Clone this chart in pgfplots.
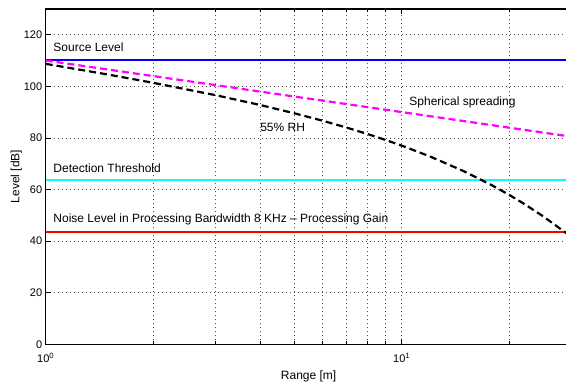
\documentclass[border=0pt]{standalone}
\usepackage{fontspec}
\setmainfont{Liberation Sans}
\usepackage{pgfplots}
\pgfplotsset{compat=1.18}
\usetikzlibrary{calc}
\definecolor{mblue}{RGB}{0,0,255}
\definecolor{mcyan}{RGB}{0,255,255}
\definecolor{mred}{RGB}{255,0,0}
\definecolor{mmag}{RGB}{255,0,255}
\begin{document}
\begin{tikzpicture}
\begin{axis}[
  scale only axis,
  width=525.9pt, height=335.4pt,
  xmode=log, xmin=1, xmax=30, ymin=0, ymax=130,
  xtick={1,10}, xticklabels={10\textsuperscript{0},10\textsuperscript{1}},
  minor xtick={2,3,4,5,6,7,8,9,20,30},
  ytick={0,20,40,60,80,100,120},
  grid=both,
  major grid style={black!70, line width=0.5pt, dash pattern=on 0.8pt off 3.2pt},
  minor grid style={black!70, line width=0.5pt, dash pattern=on 0.8pt off 3.2pt},
  tick align=inside,
  major tick length=5pt, minor tick length=3pt,
  tick style={black, line width=0.6pt},
  axis line style={line width=1.4pt},
  tick label style={font=\fontsize{11}{13}\selectfont},
  xticklabel style={yshift=-5pt},
  label style={font=\fontsize{12}{14}\selectfont},
  xlabel={Range [m]},
  ylabel={Level [dB]},
  xlabel style={yshift=-2pt},
  ylabel style={yshift=-5pt},
  /pgf/number format/assume math mode=true,
  clip=true,
]
\addplot[mblue, line width=2pt] coordinates {(1,110) (30,110)};
\addplot[mcyan, line width=2pt] coordinates {(1,63.6) (30,63.6)};
\addplot[mred, line width=2pt] coordinates {(1,43.6) (30,43.6)};
\addplot[mmag, line width=2.2pt, dash pattern=on 7pt off 4pt] coordinates {
(1,110) (1.5,106.48) (2,103.98) (3,100.46) (4,97.96) (5,96.02) (6,94.44) (7,93.10)
(8,91.94) (9,90.92) (10,90.0) (12,88.42) (15,86.48) (18,84.89) (20,83.98) (22,83.15)
(25,82.04) (28.9,80.78) (30,80.46)};
\addplot[black, line width=2.2pt, dash pattern=on 7pt off 4pt] coordinates {
(1,108.7) (1.5,104.53) (2,101.38) (3,96.56) (4,92.76) (5,89.52) (6,86.64) (7,84.0)
(8,81.54) (9,79.22) (10,77.0) (12,72.82) (15,66.98) (18,61.49) (20,57.98) (22,54.55)
(25,49.54) (28.9,43.21) (30,41.46)};
\node[anchor=west, font=\fontsize{12}{14}\selectfont, inner sep=0pt] at (axis cs:1.05,115) {Source Level};
\node[anchor=west, font=\fontsize{12}{14}\selectfont, inner sep=0pt] at (axis cs:10.5,93.8) {Spherical spreading};
\node[anchor=west, font=\fontsize{12}{14}\selectfont, inner sep=0pt] at (axis cs:4.0,84) {55\% RH};
\node[anchor=west, font=\fontsize{12}{14}\selectfont, inner sep=0pt] at (axis cs:1.05,68.3) {Detection Threshold};
\node[anchor=west, font=\fontsize{12}{14}\selectfont, inner sep=0pt] at (axis cs:1.05,48.5) {Noise Level in Processing Bandwidth 8 KHz -- Processing Gain};
\coordinate (O) at (rel axis cs:0,0);
\end{axis}
\pgfresetboundingbox
\path ($(O)+(-45.7pt,-40.7pt)$) rectangle ($(O)+(520.3pt,344.3pt)$);
\end{tikzpicture}
\end{document}
